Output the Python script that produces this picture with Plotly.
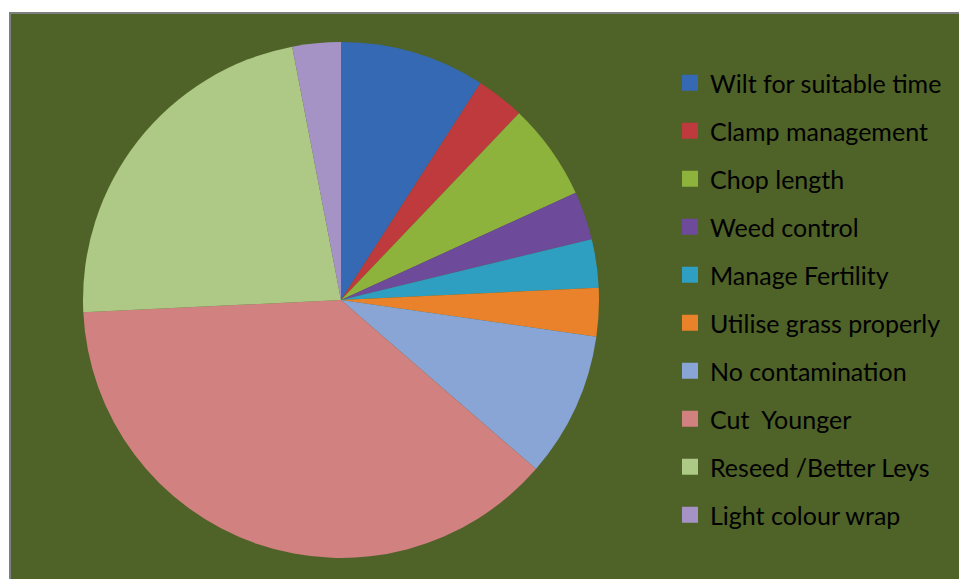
import plotly.graph_objects as go

categories = ["Wilt for suitable time", "Clamp management", "Chop length", "Weed control",
              "Manage Fertility", "Utilise grass properly", "No contamination", "Cut  Younger",
              "Reseed /Better Leys", "Light colour wrap"]
values = [3, 1, 2, 1, 1, 1, 3, 12.5, 7.5, 1]
colors = ["#3569B3", "#BE3A3C", "#8DB33D", "#6E4A9A", "#2E9FC0", "#E9822A",
          "#88A5D5", "#D08180", "#AEC885", "#A693C5"]

W, H = 959, 579
cx, cy, r = 341, 300, 258

fig = go.Figure()
fig.add_trace(go.Pie(
    labels=categories, values=values, sort=False, direction="clockwise", rotation=0,
    marker=dict(colors=colors, line=dict(width=0)), textinfo="none", showlegend=False,
    domain=dict(x=[(cx - r) / W, (cx + r) / W], y=[1 - (cy + r) / H, 1 - (cy - r) / H]),
))
for i, (c, col) in enumerate(zip(categories, colors)):
    fig.add_trace(go.Scatter(x=[None], y=[None], mode="markers", name=c,
                             legendgroup=f"g{i}",
                             marker=dict(symbol="square", size=16, color=col)))

fig.add_shape(type="rect", xref="paper", yref="paper", x0=10 / W, x1=1, y0=0, y1=1 - 13 / H,
              fillcolor="#4F6228", line=dict(width=0), layer="below")
fig.add_shape(type="line", xref="paper", yref="paper", x0=10 / W, x1=10 / W, y0=0, y1=1 - 12 / H,
              line=dict(color="#7F7F7F", width=2), layer="below")
fig.add_shape(type="line", xref="paper", yref="paper", x0=9 / W, x1=1, y0=1 - 13 / H, y1=1 - 13 / H,
              line=dict(color="#7F7F7F", width=2), layer="below")

fig.update_layout(
    width=W, height=H, margin=dict(l=0, r=0, t=0, b=0),
    paper_bgcolor="white", plot_bgcolor="rgba(0,0,0,0)",
    xaxis=dict(visible=False), yaxis=dict(visible=False),
    legend=dict(x=670 / W, y=1 - 60 / H, xanchor="left", yanchor="top",
                font=dict(family="Lato", size=25, color="black"),
                traceorder="grouped", tracegroupgap=12.5, itemwidth=30,
                bgcolor="rgba(0,0,0,0)"),
)
fig.write_html("out.html", config={"displayModeBar": False},
               post_script="document.body.style.margin='0';document.body.style.overflow='hidden';"
                           "document.documentElement.style.overflow='hidden';")
